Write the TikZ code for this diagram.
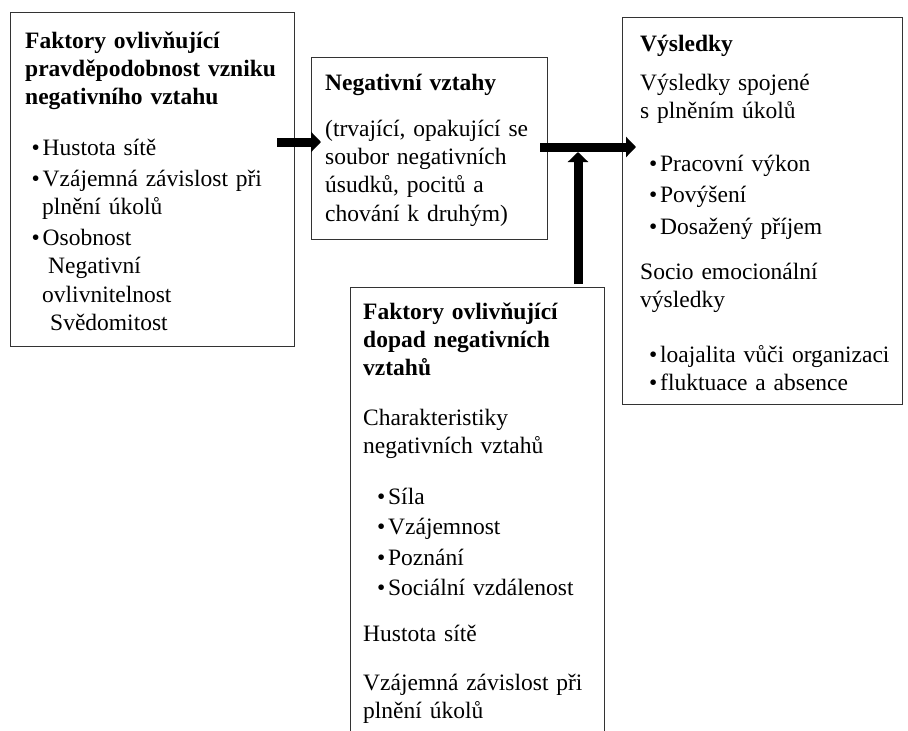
\documentclass[tikz,border=0pt]{standalone}
\usepackage{fontspec}
\setmainfont{Liberation Serif}
\usetikzlibrary{arrows.meta,calc}

\newcommand{\bodysize}{\fontsize{23.5}{28.4}\selectfont}
\newcommand{\bul}{\makebox[11pt][l]{\textbullet}}

\begin{document}
\begin{tikzpicture}[x=1pt,y=-1pt,
  box/.style={draw=black!80, line width=1.1pt, rectangle, inner sep=0pt, anchor=north west},
  txt/.style={anchor=base west, inner sep=0pt, align=left, text width=280pt, font=\bodysize},
  ttl/.style={txt, font=\bodysize\bfseries},
  bigarrow/.style={line width=9pt, -{Triangle[length=10pt,width=20pt]}}]

\clip (0,0) rectangle (908,731);
\fill[white] (0,0) rectangle (908,731);

% boxes
\node[box, minimum width=284pt, minimum height=334pt] (f1) at (10,12) {};
\node[box, minimum width=236pt, minimum height=182pt] (f2) at (311,57) {};
\node[box, minimum width=280pt, minimum height=387pt] (f3) at (622,17) {};
\node[box, minimum width=254pt, minimum height=473pt] (f4) at (350,287) {};

% left box: factors of emergence
\node[ttl] (t1) at (25,48) {Faktory ovlivňující\\pravděpodobnost vzniku\\negativního vztahu};
\node[txt] (t1b) at (31.5,155) {\bul Hustota sítě\\[2.6pt]
\bul Vzájemná závislost při\\
\hspace*{10.5pt}plnění úkolů\\[2.6pt]
\bul Osobnost\\
\hspace*{16.5pt}Negativní\\
\hspace*{10.5pt}ovlivnitelnost\\
\hspace*{18.5pt}Svědomitost};

% middle box: negative relationships
\node[ttl] (t2) at (325,90) {Negativní vztahy};
\node[txt] (t2b) at (325,136) {(trvající, opakující se\\soubor negativních\\úsudků, pocitů a\\chování k druhým)};

% right box: outcomes
\node[ttl] (t3) at (640,51) {Výsledky};
\node[txt] (t3a) at (640,90) {Výsledky spojené\\s plněním úkolů};
\node[txt] (t3b) at (649,171) {\bul Pracovní výkon\\[3.1pt]\bul Povýšení\\[3.1pt]\bul Dosažený příjem};
\node[txt] (t3c) at (640,279) {Socio emocionální\\výsledky};
\node[txt] (t3d) at (649,362.5) {\bul loajalita vůči organizaci\\\bul fluktuace a absence};

% bottom box: moderating factors
\node[ttl] (t4) at (363,319) {Faktory ovlivňující\\dopad negativních\\vztahů};
\node[txt] (t4a) at (363,425) {Charakteristiky\\negativních vztahů};
\node[txt] (t4b) at (377,504) {\bul Síla\\[2.1pt]\bul Vzájemnost\\[2.1pt]\bul Poznání\\[2.1pt]\bul Sociální vzdálenost};
\node[txt] (t4c) at (363,641) {Hustota sítě};
\node[txt] (t4d) at (363,690) {Vzájemná závislost při\\plnění úkolů};

% arrows
\coordinate (a1s) at (277,142);
\coordinate (a1e) at (321,142);
\coordinate (a2s) at (540,147);
\coordinate (a2e) at (636,147);
\coordinate (a3s) at (578,284);
\coordinate (a3e) at (578,152);
\draw[bigarrow] (a1s) -- (a1e);
\draw[bigarrow] (a2s) -- (a2e);
\draw[bigarrow] (a3s) -- (a3e);
\end{tikzpicture}
\end{document}
